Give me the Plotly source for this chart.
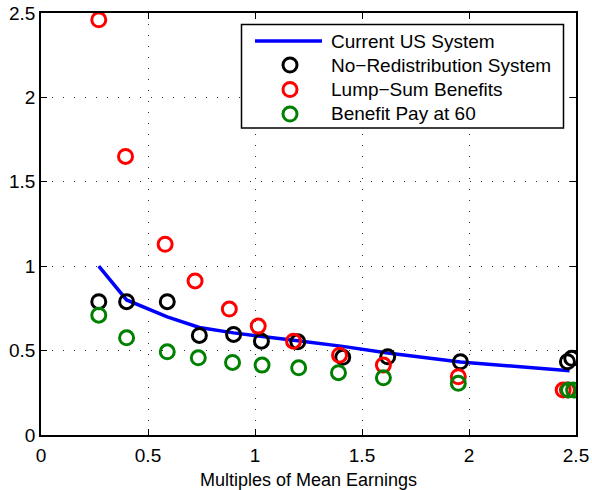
import plotly.graph_objects as go

# Current US System (line)
us_x = [0.27, 0.40, 0.59, 0.74, 0.90, 1.03, 1.20, 1.41, 1.62, 1.96, 2.47]
us_y = [1.00, 0.80, 0.70, 0.637, 0.605, 0.586, 0.558, 0.525, 0.486, 0.433, 0.380]

# No-Redistribution System (black)
nr_x = [0.27, 0.40, 0.59, 0.74, 0.90, 1.03, 1.20, 1.41, 1.62, 1.96, 2.46, 2.48]
nr_y = [0.79, 0.79, 0.79, 0.59, 0.596, 0.556, 0.552, 0.46, 0.463, 0.434, 0.434, 0.454]

# Lump-Sum Benefits (red)
ls_x = [0.27, 0.395, 0.58, 0.72, 0.88, 1.015, 1.18, 1.395, 1.60, 1.95, 2.44, 2.46]
ls_y = [2.46, 1.65, 1.13, 0.913, 0.746, 0.645, 0.556, 0.473, 0.414, 0.345, 0.266, 0.266]

# Benefit Pay at 60 (green)
bp_x = [0.27, 0.40, 0.59, 0.735, 0.895, 1.033, 1.204, 1.39, 1.60, 1.95, 2.465, 2.489]
bp_y = [0.71, 0.576, 0.493, 0.457, 0.43, 0.414, 0.398, 0.369, 0.339, 0.306, 0.266, 0.266]

x_ticks = [0, 0.5, 1, 1.5, 2, 2.5]
x_ticklabels = ["0", "0.5", "1", "1.5", "2", "2.5"]
y_ticks = [0, 0.5, 1, 1.5, 2, 2.5]
y_ticklabels = ["0", "0.5", "1", "1.5", "2", "2.5"]

series_names = ["Current US System", "No\u2212Redistribution System",
                "Lump\u2212Sum Benefits", "Benefit Pay at 60"]
series_colors = ["#0000ff", "#000000", "#ff0000", "#008000"]

FONT = "Liberation Sans, Arial, Helvetica, sans-serif"
FS = 19
msize = 14
mlw = 3

W, H = 592, 490
ML, MR, MT, MB = 41, 16, 13, 55
PW, PH = W - ML - MR, H - MT - MB


def px(xp):
    return (xp - ML) / PW


def py(yp):
    return (H - MB - yp) / PH


fig = go.Figure()
fig.add_trace(go.Scatter(x=us_x, y=us_y, mode="lines", name=series_names[0],
                         line=dict(color=series_colors[0], width=3.5)))
for xs, ys, nm, col in [(nr_x, nr_y, series_names[1], series_colors[1]),
                        (ls_x, ls_y, series_names[2], series_colors[2]),
                        (bp_x, bp_y, series_names[3], series_colors[3])]:
    fig.add_trace(go.Scatter(x=xs, y=ys, mode="markers", name=nm,
                             marker=dict(symbol="circle-open", size=msize, color=col,
                                         line=dict(width=mlw, color=col))))

axis_common = dict(
    showline=True, linecolor="black", linewidth=1.5, mirror="ticks",
    ticks="inside", ticklen=6, tickwidth=1, tickcolor="black",
    showgrid=True, gridcolor="#333333", gridwidth=1, griddash="1px,10px",
    zeroline=False, tickfont=dict(family=FONT, size=FS, color="black"),
    automargin=False,
)

fig.update_xaxes(range=[0, 2.5], tickvals=x_ticks, ticktext=x_ticklabels,
                 ticklabelstandoff=2,
                 title=dict(text="Multiples of Mean Earnings",
                            font=dict(family=FONT, size=FS - 1, color="black"),
                            standoff=11),
                 **axis_common)
fig.update_yaxes(range=[0, 2.5], tickvals=y_ticks, ticktext=y_ticklabels, **axis_common)

# Legend drawn as a boxed key (MATLAB style)
shapes = [dict(type="rect", xref="paper", yref="paper",
               x0=px(241.5), x1=px(563.5), y0=py(128), y1=py(24.5),
               fillcolor="white", line=dict(color="black", width=1.5), layer="above")]
annotations = []
rows = [41, 65, 89.5, 114]
for i, (nm, col) in enumerate(zip(series_names, series_colors)):
    yy = py(rows[i])
    if i == 0:
        shapes.append(dict(type="line", xref="paper", yref="paper",
                           x0=px(255), x1=px(322), y0=yy, y1=yy,
                           line=dict(color=col, width=3.5), layer="above"))
    else:
        shapes.append(dict(type="circle", xref="paper", yref="paper",
                           xsizemode="pixel", ysizemode="pixel",
                           xanchor=px(290), yanchor=yy,
                           x0=-msize / 2, x1=msize / 2, y0=-msize / 2, y1=msize / 2,
                           line=dict(color=col, width=mlw), layer="above"))
    annotations.append(dict(text=nm, xref="paper", yref="paper", x=px(329), y=yy,
                            xanchor="left", yanchor="middle", showarrow=False,
                            font=dict(family=FONT, size=FS, color="black")))

fig.update_layout(
    width=W, height=H,
    margin=dict(l=ML, r=MR, t=MT, b=MB),
    paper_bgcolor="white", plot_bgcolor="white",
    font=dict(family=FONT, size=FS, color="black"),
    showlegend=False,
    shapes=shapes, annotations=annotations,
)

fig.write_html("out.html")
